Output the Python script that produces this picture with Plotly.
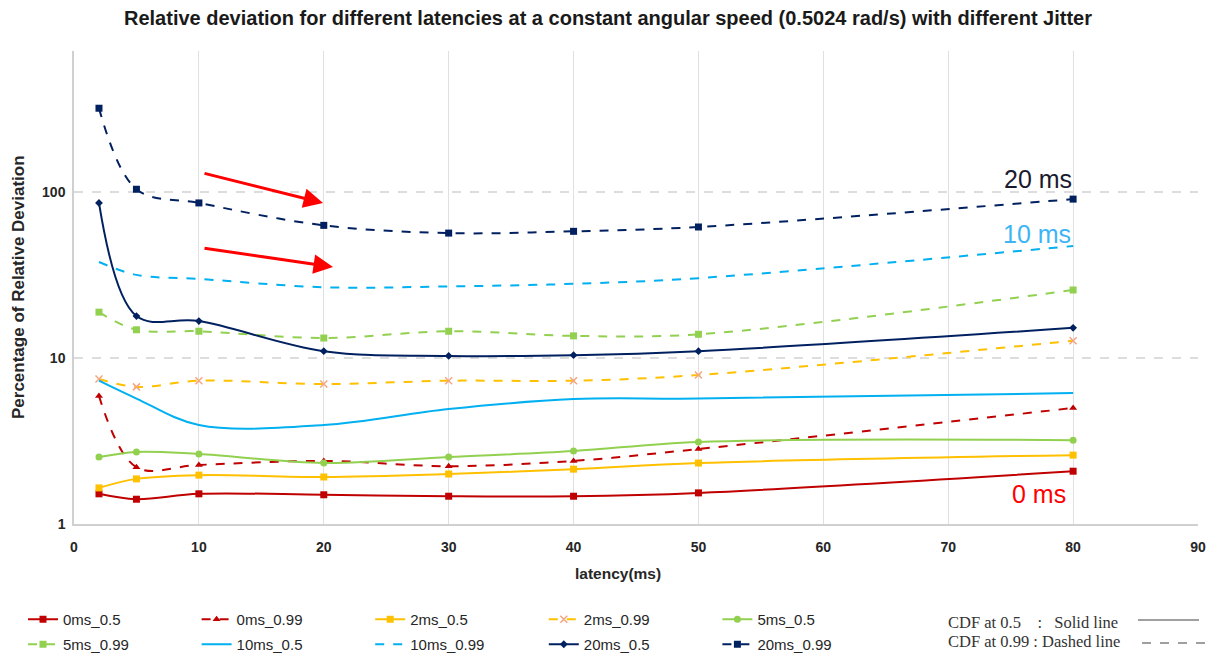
import plotly.graph_objects as go

latency = [2, 5, 10, 20, 30, 40, 50, 80]

ms0_05 = [1.52, 1.41, 1.52, 1.50, 1.47, 1.47, 1.54, 2.08]
ms0_099 = [5.9, 2.20, 2.27, 2.40, 2.23, 2.40, 2.83, 5.0]
ms2_05 = [1.65, 1.87, 1.97, 1.92, 2.00, 2.14, 2.33, 2.60]
ms2_099 = [7.47, 6.70, 7.30, 6.97, 7.30, 7.30, 7.90, 12.7]
ms5_05 = [2.53, 2.72, 2.64, 2.33, 2.53, 2.75, 3.12, 3.20]
ms5_099 = [18.9, 14.8, 14.5, 13.2, 14.5, 13.6, 13.9, 25.7]
ms10_05 = [7.3, 5.7, 3.95, 3.95, 4.93, 5.66, 5.70, 6.15]
ms10_099 = [37.9, 31.7, 30.0, 26.7, 27.0, 28.0, 30.3, 47.3]
ms20_05 = [86.0, 17.9, 16.7, 11.0, 10.3, 10.4, 11.0, 15.2]
ms20_099 = [320.0, 104.0, 86.0, 63.0, 56.6, 58.0, 61.6, 90.7]

RED = "#C00000"
GOLD = "#FFC000"
GREEN = "#92D050"
BLUE = "#00B0F0"
NAVY = "#002060"

series = [
    ("0ms_0.5", ms0_05, RED, "solid", "square", 7, "legend"),
    ("0ms_0.99", ms0_099, RED, "dash", "triangle-up", 7, "legend"),
    ("2ms_0.5", ms2_05, GOLD, "solid", "square", 7, "legend"),
    ("2ms_0.99", ms2_099, GOLD, "dash", "x-thin", 7, "legend"),
    ("5ms_0.5", ms5_05, GREEN, "solid", "circle", 7, "legend"),
    ("5ms_0.99", ms5_099, GREEN, "dash", "square", 7, "legend2"),
    ("10ms_0.5", ms10_05, BLUE, "solid", None, 0, "legend2"),
    ("10ms_0.99", ms10_099, BLUE, "dash", None, 0, "legend2"),
    ("20ms_0.5", ms20_05, NAVY, "solid", "diamond", 6, "legend2"),
    ("20ms_0.99", ms20_099, NAVY, "dash", "square", 7, "legend2"),
]

fig = go.Figure()
for name, vals, color, dash, sym, size, leg in series:
    if sym is None:
        mode = "lines"
        marker = dict()
    elif sym == "x-thin":
        mode = "lines+markers"
        marker = dict(symbol=sym, size=size, line=dict(color="#F4A582", width=1.5), color="#F4A582")
    else:
        mode = "lines+markers"
        marker = dict(symbol=sym, size=size, color=color)
    fig.add_trace(go.Scatter(
        x=latency, y=vals, name=name, mode=mode,
        line=dict(color=color, width=2, dash=dash, shape="spline", smoothing=1.0),
        marker=marker, legend=leg,
    ))

TXT = "#262626"
OFF = 8  # page body margin
W, H = 1217 - OFF, 659 - OFF
# plot area in page coordinates
PL, PR, PT, PB = 74, 1198, 51, 524
PW, PH = PR - PL, PB - PT


def px(x):
    return (x - PL) / PW


def py(y):
    return (PB - y) / PH


fig.update_layout(
    width=W, height=H,
    margin=dict(l=PL - OFF, r=W - (PR - OFF), t=PT - OFF, b=H - (PB - OFF), autoexpand=False),
    paper_bgcolor="white", plot_bgcolor="white",
    font=dict(family="Liberation Sans, Arial, sans-serif", color=TXT, size=14),
    title=dict(
        text="<b>Relative deviation for different latencies at a constant angular speed (0.5024 rad/s) with different Jitter</b>",
        x=(608 - OFF) / W, xanchor="center", y=1 - (18 - OFF) / H, yanchor="middle",
        font=dict(size=20, color="#1a1a1a"),
    ),
    xaxis=dict(
        range=[0, 90], dtick=10, tick0=0, automargin=False,
        showgrid=True, gridcolor="#E0E0E0", gridwidth=1,
        showline=True, linecolor="#D0D0D0", linewidth=1.5,
        ticks="", tickfont=dict(size=14, color=TXT),
        tickprefix="<b>", ticksuffix="</b>",
        ticklabelstandoff=9,
        zeroline=False,
    ),
    yaxis=dict(
        type="log", range=[0, 2.85], automargin=False,
        tickvals=[1, 10, 100], ticktext=["<b>1</b>", "<b>10</b>", "<b>100</b>"],
        showgrid=True, gridcolor="#DDDDDD", gridwidth=1.5, griddash="dash",
        showline=True, linecolor="#D0D0D0", linewidth=1.5,
        ticks="", tickfont=dict(size=14, color=TXT),
        ticklabelstandoff=4,
        zeroline=False,
    ),
    legend=dict(
        orientation="h", x=px(23), xanchor="left", y=py(603), yanchor="top",
        entrywidth=128.6, entrywidthmode="pixels",
        font=dict(size=15, color=TXT), bgcolor="rgba(0,0,0,0)",
        tracegroupgap=0, itemwidth=30,
    ),
    legend2=dict(
        orientation="h", x=px(23), xanchor="left", y=py(628), yanchor="top",
        entrywidth=128.6, entrywidthmode="pixels",
        font=dict(size=15, color=TXT), bgcolor="rgba(0,0,0,0)",
        tracegroupgap=0, itemwidth=30,
    ),
)

# axis titles
fig.add_annotation(x=px(618), y=py(573), xref="paper", yref="paper", text="<b>latency(ms)</b>",
                   showarrow=False, xanchor="center", yanchor="middle", font=dict(size=15.5, color=TXT))
fig.add_annotation(x=px(18), y=py(287), xref="paper", yref="paper", text="<b>Percentage of Relative Deviation</b>",
                   showarrow=False, textangle=-90, xanchor="center", yanchor="middle", font=dict(size=17, color=TXT))

# red arrows (data coords; log10 for y)
for (x0, y0, x1, y1) in [(10.33, 2.115, 19.94, 1.934), (10.33, 1.663, 20.74, 1.549)]:
    fig.add_annotation(
        x=x1, y=y1, ax=x0, ay=y0, xref="x", yref="y", axref="x", ayref="y",
        showarrow=True, arrowhead=2, arrowsize=1.3, arrowwidth=3, arrowcolor="#FF0000", text="",
    )

# series labels
for txt, xv, yv, col in [("20 ms", 80.1, 2.08, "#1a1a2e"), ("10 ms", 80.0, 1.75, "#3DB5F5"), ("0 ms", 79.6, 0.18, "#FF0000")]:
    fig.add_annotation(x=xv, y=yv, xref="x", yref="y", text=txt, showarrow=False,
                       xanchor="right", yanchor="middle", font=dict(size=25, color=col))

# CDF note
SERIF = "Liberation Serif, Times New Roman, serif"
fig.add_annotation(x=px(946), y=py(622), xref="paper", yref="paper",
                   text="CDF at 0.5\u00a0\u00a0\u00a0\u00a0:\u00a0\u00a0\u00a0Solid line", showarrow=False,
                   xanchor="left", yanchor="middle", font=dict(family=SERIF, size=16.5, color="#333333"))
fig.add_annotation(x=px(946), y=py(641), xref="paper", yref="paper",
                   text="CDF at 0.99 : Dashed line", showarrow=False,
                   xanchor="left", yanchor="middle", font=dict(family=SERIF, size=16.5, color="#333333"))
fig.add_shape(type="line", xref="paper", yref="paper",
              x0=px(1138), x1=px(1199), y0=py(620), y1=py(620),
              line=dict(color="#808080", width=1.5))
fig.add_shape(type="line", xref="paper", yref="paper",
              x0=px(1142), x1=px(1205), y0=py(643), y1=py(643),
              line=dict(color="#808080", width=1.5, dash="dash"))

fig.write_html("out.html")
